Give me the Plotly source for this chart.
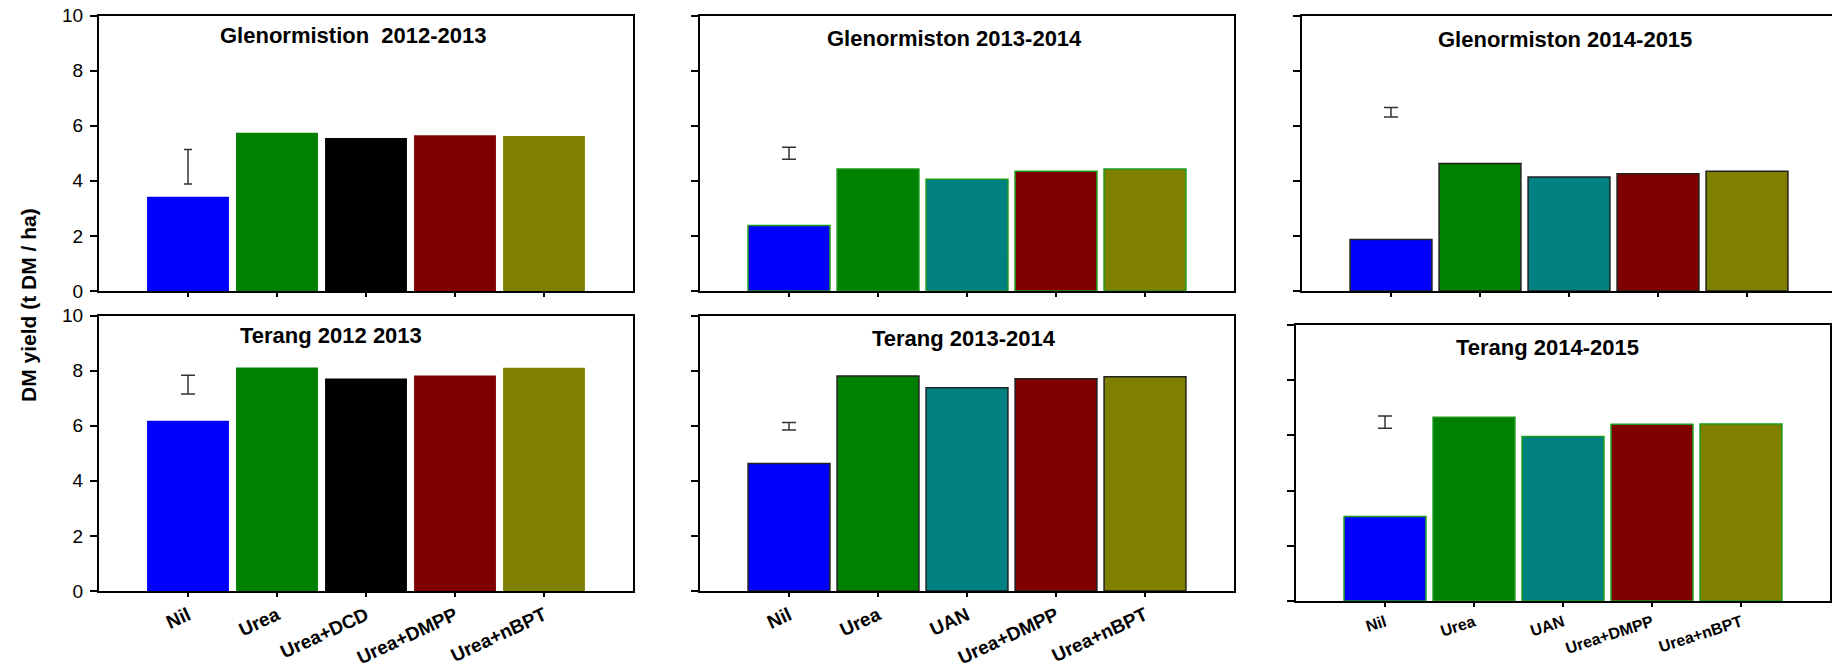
import plotly.graph_objects as go

# Treatments
treat_2012 = ["Nil", "Urea", "Urea+DCD", "Urea+DMPP", "Urea+nBPT"]
treat_later = ["Nil", "Urea", "UAN", "Urea+DMPP", "Urea+nBPT"]

# Dry-matter yield (t DM / ha) per treatment
glen_2012 = [3.42, 5.74, 5.55, 5.65, 5.63]
glen_2013 = [2.38, 4.43, 4.06, 4.35, 4.43]
glen_2014 = [1.87, 4.63, 4.14, 4.26, 4.35]
terang_2012 = [6.18, 8.11, 7.71, 7.82, 8.10]
terang_2013 = [4.63, 7.80, 7.38, 7.70, 7.78]
terang_2014 = [3.06, 6.66, 5.96, 6.40, 6.41]

# LSD bars: centre and half-length, drawn above the Nil position
lsd_centre = [4.51, 5.00, 6.49, 7.49, 5.98, 6.48]
lsd_half = [0.63, 0.22, 0.17, 0.34, 0.14, 0.22]

titles = ["Glenormistion  2012-2013", "Glenormiston 2013-2014", "Glenormiston 2014-2015",
          "Terang 2012 2013", "Terang 2013-2014", "Terang 2014-2015"]

colors_2012 = ["#0000FF", "#008000", "#000000", "#800000", "#808000"]
colors_later = ["#0000FF", "#008000", "#008080", "#800000", "#808000"]

W, H = 1832, 667
FONT = "Liberation Sans, Arial, sans-serif"

# panel boxes in pixels: (left, right, top, bottom)
boxes = [
    (99, 633, 15.5, 291), (700, 1234, 15.5, 291), (1302, 1836, 15.5, 291),
    (99, 633, 315.5, 591), (700, 1234, 315.5, 591), (1296, 1830, 325, 601),
]
title_pos = [(353, 36), (955, 38), (1565, 39), (331, 335), (964, 338), (1547, 347)]

panels = [
    (treat_2012, glen_2012, colors_2012, None),
    (treat_later, glen_2013, colors_later, "#1a9a1a"),
    (treat_later, glen_2014, colors_later, "#222222"),
    (treat_2012, terang_2012, colors_2012, None),
    (treat_later, terang_2013, colors_later, "#222222"),
    (treat_later, terang_2014, colors_later, "#1a9a1a"),
]

fig = go.Figure()
layout = dict(
    width=W, height=H, margin=dict(l=0, r=0, t=0, b=0),
    paper_bgcolor="white", plot_bgcolor="white", showlegend=False,
    bargap=0.08, font=dict(family=FONT, color="black"),
)
annotations = []

for i, (cats, vals, cols, edge) in enumerate(panels):
    n = i + 1
    xa = "x" if n == 1 else f"x{n}"
    ya = "y" if n == 1 else f"y{n}"
    fig.add_trace(go.Bar(
        x=cats, y=vals, marker=dict(color=cols,
                                    line=dict(color=edge or "rgba(0,0,0,0)", width=1.5 if edge else 0)),
        xaxis=xa, yaxis=ya, hoverinfo="x+y",
    ))
    fig.add_trace(go.Scatter(
        x=[cats[0]], y=[lsd_centre[i]], mode="markers",
        marker=dict(color="rgba(0,0,0,0)", size=1),
        error_y=dict(type="data", array=[lsd_half[i]], color="#333333",
                     thickness=1.5, width=4 if i == 0 else 7),
        xaxis=xa, yaxis=ya,
    ))

    left, right, top, bottom = boxes[i]
    clipped = right > W
    x_end = min(right, W)
    cat_w = (right - left) / 6.0
    xr_hi = -1 + (x_end - left) / cat_w

    bottom_row = i >= 3
    small = i == 5
    layout[f"xaxis{'' if n == 1 else n}"] = dict(
        domain=[left / W, x_end / W], anchor=ya, type="category",
        range=[-1, xr_hi], showline=True, linewidth=2, linecolor="black",
        mirror=True, ticks="outside", ticklen=4, tickwidth=1.5, tickcolor="black",
        showgrid=False, zeroline=False, showticklabels=bottom_row,
        tickangle=-18 if small else -25,
        tickfont=dict(family=FONT, size=16 if small else 19, color="black", weight="bold"),
        automargin=False,
    )
    layout[f"yaxis{'' if n == 1 else n}"] = dict(
        domain=[1 - bottom / H, 1 - top / H], anchor=xa,
        range=[0, 10], dtick=2, tick0=0, showline=True, linewidth=2, linecolor="black",
        mirror=not clipped, ticks="outside", ticklen=7, tickwidth=1.5, tickcolor="black",
        showgrid=False, zeroline=False, showticklabels=(i in (0, 3)),
        tickfont=dict(family=FONT, size=19, color="black"), ticklabelstandoff=3,
        automargin=False,
    )
    tx, ty = title_pos[i]
    annotations.append(dict(
        text=titles[i], x=tx / W, y=1 - ty / H, xref="paper", yref="paper",
        xanchor="center", yanchor="middle", showarrow=False,
        font=dict(family=FONT, size=22, color="black", weight="bold"),
    ))

annotations.append(dict(
    text="DM yield (t DM / ha)", x=28 / W, y=1 - 305 / H, xref="paper", yref="paper",
    xanchor="center", yanchor="middle", showarrow=False, textangle=-90,
    font=dict(family=FONT, size=21, color="black", weight="bold"),
))
layout["annotations"] = annotations

fig.update_layout(**layout)
fig.write_html("out.html")
